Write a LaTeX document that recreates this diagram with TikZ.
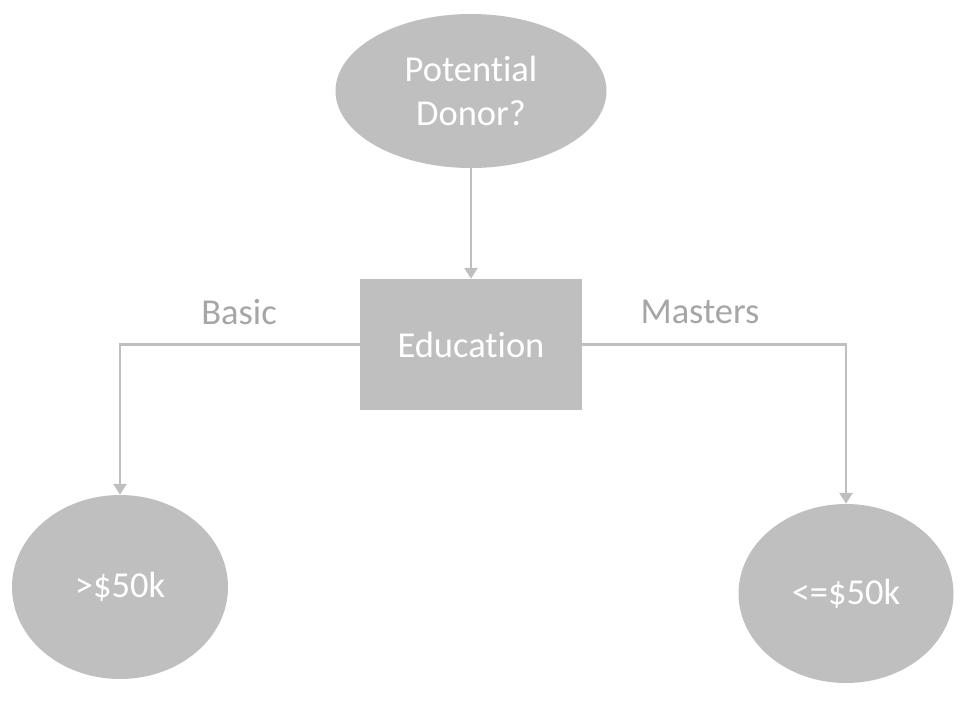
\documentclass[tikz,border=0pt]{standalone}
\usepackage{fontspec}
\setmainfont{Carlito}[Ligatures=NoCommon]
\usetikzlibrary{shapes.geometric, arrows.meta}

\definecolor{boxgray}{RGB}{191,191,191}
\definecolor{labelgray}{RGB}{166,166,166}

\tikzset{
    decision/.style={ellipse, fill=boxgray, text=white, align=center, inner sep=0pt},
    attribute/.style={rectangle, fill=boxgray, text=white, inner sep=0pt},
    branch/.style={draw=boxgray, line width=2.8pt, -{Triangle[width=13pt,length=11pt]}},
    branchlabel/.style={text=labelgray}
}

\begin{document}
\begin{tikzpicture}[x=1pt, y=-1pt, font=\fontsize{36.5}{44}\selectfont]
            \useasboundingbox (0,0) rectangle (972,716);
            % nodes
            \node[decision, minimum width=271pt, minimum height=154pt] (donor) at (471,91) {Potential\\Donor?};
            \node[attribute, minimum width=222pt, minimum height=131pt] (edu) at (471,344.5) {Education};
            \node[decision, minimum width=216pt, minimum height=184pt] (high) at (120,587) {>\$50k};
            \node[decision, minimum width=215pt, minimum height=179pt] (low) at (846,593.5) {<=\$50k};
            % connectors
            \draw[branch] (donor) -- (edu);
            \draw[branch] (edu.west) -| (high.north);
            \draw[branch] (edu.east) -| (low.north);
            \node[branchlabel] (basic) at (239,312) {Basic};
            \node[branchlabel] (masters) at (700,312) {Masters};
        \end{tikzpicture}
\end{document}
